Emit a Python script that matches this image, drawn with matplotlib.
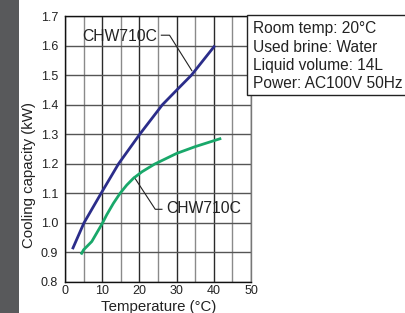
import matplotlib
matplotlib.use("Agg")
import matplotlib.pyplot as plt
from matplotlib.patches import Rectangle

plt.rcParams['font.family'] = ['Liberation Sans', 'DejaVu Sans']

# Data
blue_x = [2.0, 5.1, 9.7, 14.4, 20.1, 26.2, 30, 34.0, 40.3]
blue_y = [0.911, 1.000, 1.100, 1.200, 1.300, 1.400, 1.449, 1.500, 1.600]

green_x = [4.3, 5.0, 7.2, 9.0, 10.1, 11.2, 13.0, 14.8, 16.6, 18.4, 20.7, 24.1, 30, 35, 40, 42]
green_y = [0.893, 0.909, 0.937, 0.976, 1.000, 1.027, 1.066, 1.100, 1.128, 1.151, 1.173, 1.199, 1.235, 1.258, 1.278, 1.286]

x_ticks = [0, 10, 20, 30, 40, 50]
y_ticks = [0.8, 0.9, 1.0, 1.1, 1.2, 1.3, 1.4, 1.5, 1.6, 1.7]
y_tick_labels = ['0.8', '0.9', '1.0', '1.1', '1.2', '1.3', '1.4', '1.5', '1.6', '1.7']

series_label = 'CHW710C'
info_lines = ['Room temp: 20°C', 'Used brine: Water', 'Liquid volume: 14L', 'Power: AC100V 50Hz']
x_label = 'Temperature (°C)'
y_label = 'Cooling capacity (kW)'

W, H = 405, 313
fig = plt.figure(figsize=(W / 100, H / 100), dpi=100)
fig.patch.set_facecolor('white')

# dark stripe on the left
fig.patches.append(Rectangle((0, 0), 19 / W, 1, transform=fig.transFigure,
                             facecolor='#58595b', edgecolor='none', zorder=0))

ax = fig.add_axes([65 / W, 31 / H, 186 / W, 266 / H])
ax.set_xlim(0, 50)
ax.set_ylim(0.8, 1.7)

ax.set_xticks(x_ticks)
ax.set_xticks([5, 15, 25, 35, 45], minor=True)
ax.set_yticks(y_ticks)
ax.set_yticklabels(y_tick_labels)
ax.tick_params(which='both', length=0, labelsize=9, colors='#222222')
ax.tick_params(axis='y', pad=5)
ax.tick_params(axis='x', pad=2.5)

ax.grid(which='major', axis='x', color='#2a2a2a', lw=1.0, zorder=0)
ax.grid(which='minor', axis='x', color='#8a8a8a', lw=1.0, zorder=0)
ax.grid(which='major', axis='y', color='#555555', lw=1.0, zorder=0)

for s in ['left', 'bottom', 'top']:
    ax.spines[s].set_color('#111111')
    ax.spines[s].set_linewidth(1.0)
ax.spines['right'].set_color('#777777')
ax.spines['right'].set_linewidth(1.0)

ax.plot(blue_x, blue_y, color='#2b2d8a', lw=2.0, solid_capstyle='butt',
        solid_joinstyle='round', zorder=3)
ax.plot(green_x, green_y, color='#19a86a', lw=2.0, solid_capstyle='butt',
        solid_joinstyle='round', zorder=3)

# annotations (leader lines + labels)
ax.plot([25.9, 28.1, 34.1], [1.635, 1.635, 1.515], color='#222222', lw=0.8, zorder=2)
ax.text(4.66, 1.6145, series_label, fontsize=11.3, va='baseline', ha='left', color='#222222', zorder=4)
ax.plot([18.6, 24.26, 26.06], [1.155, 1.046, 1.046], color='#222222', lw=0.8, zorder=2)
ax.text(27.2, 1.0324, series_label, fontsize=11.3, va='baseline', ha='left', color='#222222', zorder=4)

# info box
fig.patches.append(Rectangle((247 / W, 1 - 94.5 / H), 170 / W, 79.5 / H, transform=fig.transFigure,
                             facecolor='white', edgecolor='#222222', lw=1.0, zorder=5))
baselines = [33.3, 51.7, 70.0, 87.8]
for line, b in zip(info_lines, baselines):
    fig.text(252.7 / W, 1 - b / H, line, fontsize=11.2, va='baseline', ha='left',
             color='#222222', zorder=6)

fig.text(28.5 / W, 1 - 175 / H, y_label, rotation=90, fontsize=10.8, va='center', ha='center', color='#222222')
fig.text(159 / W, 1.5 / H, x_label, fontsize=10.8, va='baseline', ha='center', color='#222222')

fig.savefig('out.png', dpi=100)
